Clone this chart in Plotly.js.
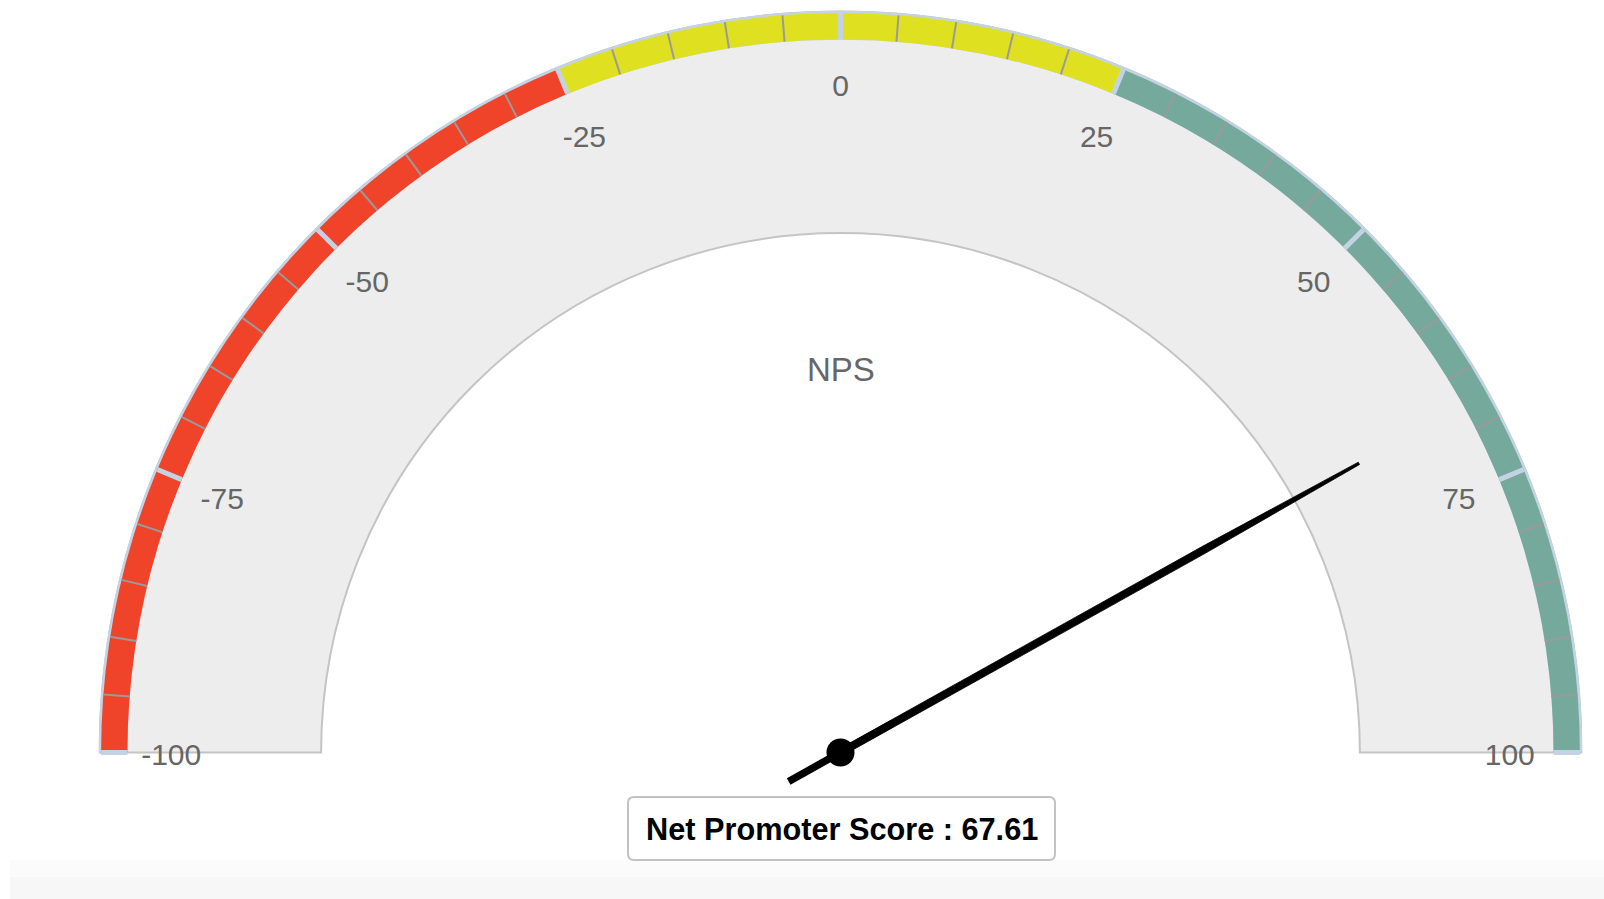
<!DOCTYPE html>
<html>
<head>
<meta charset="utf-8">
<script src="https://cdn.plot.ly/plotly-3.0.1.min.js"></script>
<style>
  html, body { margin: 0; padding: 0; background: #ffffff; }
  #chart { width: 1604px; height: 899px; }
</style>
</head>
<body>
<div id="chart"></div>
<script>
// ---------------- data ----------------
const gaugeMin = -100;
const gaugeMax = 100;
const npsValue = 67.61;
const gaugeTitle = 'NPS';
const scoreLabel = 'Net Promoter Score';

const bandFrom = [-100, -25, 25];
const bandTo = [-25, 25, 100];
const bandColors = ['#ef4429', '#dfe01f', '#75a99c'];

const majorTicks = [-100, -75, -50, -25, 0, 25, 50, 75, 100];
const majorTickLabels = ['-100', '-75', '-50', '-25', '0', '25', '50', '75', '100'];
const minorTicks = [-95, -90, -85, -80, -70, -65, -60, -55, -45, -40, -35, -30,
                    -20, -15, -10, -5, 5, 10, 15, 20, 30, 35, 40, 45,
                    55, 60, 65, 70, 80, 85, 90, 95];

// ---------------- geometry (radial units, 1 = outer radius) ----------------
const R_PX = 742;
const paneInner = 0.70;
const bandInner = 0.961;
const bandOuter = 0.9965;
const labelR = 0.902;
const labelDrop = 5 / R_PX;          // labels sit a little below their radial point
const dialR = 0.80;                  // needle tip
const needleBase = 0.70 * dialR;     // needle keeps full width up to here
const needleRear = 0.10 * dialR;     // tail length
const baseHalf = 3.7 / R_PX;
const topHalf = 1.3 / R_PX;
const sectorPad = 1.5;               // degrees of extra sector below the baseline
const LINE_SYMBOL_SCALE = 1.4;       // plotly draws 'line-ew' with half-length 1.4 * size/2

// value -> angular-axis degrees (0 at left end, 180 at right end)
function toTheta(v) { return (v - gaugeMin) / (gaugeMax - gaugeMin) * 180; }
const DEG = 180 / Math.PI;

const traces = [];

// grey pane
traces.push({
  type: 'barpolar',
  r: [1 - paneInner], base: [paneInner],
  theta: [toTheta((gaugeMin + gaugeMax) / 2)],
  width: [toTheta(gaugeMax) - toTheta(gaugeMin)],
  marker: { color: '#ededed', line: { color: '#c4c4c4', width: 2 } },
  hoverinfo: 'skip'
});

// light-blue rim behind the coloured bands
traces.push({
  type: 'barpolar',
  r: [1 - bandInner], base: [bandInner],
  theta: [toTheta((gaugeMin + gaugeMax) / 2)],
  width: [toTheta(gaugeMax) - toTheta(gaugeMin)],
  marker: { color: '#c3d3e3', line: { width: 0 } },
  hoverinfo: 'skip'
});

// coloured bands
traces.push({
  type: 'barpolar',
  r: bandFrom.map(() => bandOuter - bandInner),
  base: bandFrom.map(() => bandInner),
  theta: bandFrom.map((f, i) => (toTheta(f) + toTheta(bandTo[i])) / 2),
  width: bandFrom.map((f, i) => toTheta(bandTo[i]) - toTheta(f)),
  marker: { color: bandColors, line: { width: 0 } },
  hoverinfo: 'skip'
});

// tick lines
function tickTrace(vals, color, width) {
  const r = [], th = [];
  vals.forEach(v => { r.push(bandInner, bandOuter, null); th.push(toTheta(v), toTheta(v), null); });
  return {
    type: 'scatterpolar', mode: 'lines', r: r, theta: th,
    line: { color: color, width: width }, connectgaps: false,
    cliponaxis: false, hoverinfo: 'skip'
  };
}
traces.push(tickTrace(minorTicks, '#9a9a9a', 2));
traces.push(tickTrace(majorTicks, '#c3d3e3', 5));

// tick labels (placed at labelR, dropped slightly downward)
function labelPos(v) {
  const phi = (180 - toTheta(v)) / DEG;
  const x = labelR * Math.cos(phi);
  const y = labelR * Math.sin(phi) - labelDrop;
  let th = 180 - Math.atan2(y, x) * DEG;
  if (th > 270) th -= 360;
  return { r: Math.hypot(x, y), theta: th };
}
traces.push({
  type: 'scatterpolar', mode: 'text',
  r: majorTicks.map(v => labelPos(v).r),
  theta: majorTicks.map(v => labelPos(v).theta),
  text: majorTickLabels,
  textposition: 'middle center',
  textfont: { family: 'Liberation Sans, Arial, sans-serif', size: 30, color: '#666666' },
  cliponaxis: false, hoverinfo: 'skip'
});

// needle body (front part, tapered towards the tip)
const T = toTheta(npsValue);
function offsetPt(d, w) {
  return { r: Math.hypot(d, w), theta: T - Math.atan2(w, d) * DEG };
}
(function () {
  const pts = [offsetPt(0, baseHalf), offsetPt(needleBase, baseHalf), offsetPt(dialR, topHalf),
               offsetPt(dialR, -topHalf), offsetPt(needleBase, -baseHalf), offsetPt(0, -baseHalf)];
  pts.push(pts[0]);
  traces.push({
    type: 'scatterpolar', mode: 'lines', fill: 'toself', fillcolor: '#000000',
    r: pts.map(p => p.r), theta: pts.map(p => p.theta),
    line: { color: '#000000', width: 0.8 },
    cliponaxis: false, hoverinfo: 'skip'
  });
})();

// needle tail: a rotated line marker centred on the hub (front half hidden under the body)
traces.push({
  type: 'scatterpolar', mode: 'markers',
  r: [0], theta: [T],
  marker: {
    symbol: 'line-ew', size: 2 * needleRear * R_PX / LINE_SYMBOL_SCALE, angle: -(180 - T),
    line: { color: '#000000', width: baseHalf * 2 * R_PX }
  },
  cliponaxis: false, hoverinfo: 'skip'
});

// hub
traces.push({
  type: 'scatterpolar', mode: 'markers',
  r: [0], theta: [T],
  marker: { size: 28, color: '#000000', line: { width: 0 } },
  cliponaxis: false, hoverinfo: 'skip'
});

const W = 1604, H = 899;
const cx = 840.5, cy = 752.5;
const below = Math.sin(sectorPad / DEG) * R_PX;

const layout = {
  width: W, height: H,
  margin: { l: 0, r: 0, t: 0, b: 0, pad: 0 },
  paper_bgcolor: '#ffffff',
  showlegend: false,
  font: { family: 'Liberation Sans, Arial, sans-serif' },
  polar: {
    domain: { x: [(cx - R_PX) / W, (cx + R_PX) / W], y: [(H - cy - below) / H, (H - cy + R_PX) / H] },
    sector: [-sectorPad, 180 + sectorPad],
    hole: 0,
    bgcolor: 'rgba(0,0,0,0)',
    radialaxis: { visible: false, range: [0, 1] },
    angularaxis: {
      rotation: 180, direction: 'clockwise',
      showticklabels: false, ticks: '', showgrid: false, showline: false
    }
  },
  shapes: [
    { type: 'rect', xref: 'paper', yref: 'paper', x0: 10 / W, x1: 1, y0: 0, y1: 39 / H,
      fillcolor: '#fbfbfb', line: { width: 0 }, layer: 'below' },
    { type: 'rect', xref: 'paper', yref: 'paper', x0: 10 / W, x1: 1, y0: 0, y1: 22 / H,
      fillcolor: '#f7f7f7', line: { width: 0 }, layer: 'below' },
    { type: 'path', xref: 'paper', yref: 'paper',
      xsizemode: 'pixel', ysizemode: 'pixel',
      xanchor: 841.5 / W, yanchor: (H - 828.5) / H,
      path: 'M -207.5,-31.5 L 207.5,-31.5 Q 213.5,-31.5 213.5,-25.5 L 213.5,25.5 Q 213.5,31.5 207.5,31.5 ' +
            'L -207.5,31.5 Q -213.5,31.5 -213.5,25.5 L -213.5,-25.5 Q -213.5,-31.5 -207.5,-31.5 Z',
      fillcolor: '#ffffff', line: { color: '#c2c2c2', width: 2 } }
  ],
  annotations: [
    { xref: 'paper', yref: 'paper', x: cx / W, y: (H - 370) / H,
      text: gaugeTitle, showarrow: false, xanchor: 'center', yanchor: 'middle',
      font: { family: 'Liberation Sans, Arial, sans-serif', size: 33, color: '#666666' } },
    { xref: 'paper', yref: 'paper', x: 841.5 / W, y: (H - 829) / H,
      text: scoreLabel + ' : ' + npsValue.toFixed(2), showarrow: false,
      xanchor: 'center', yanchor: 'middle',
      font: { family: 'Liberation Sans, Arial, sans-serif', size: 30.7, color: '#000000', weight: 'bold' } }
  ]
};

Plotly.newPlot('chart', traces, layout, { displayModeBar: false, staticPlot: true });
</script>
</body>
</html>
